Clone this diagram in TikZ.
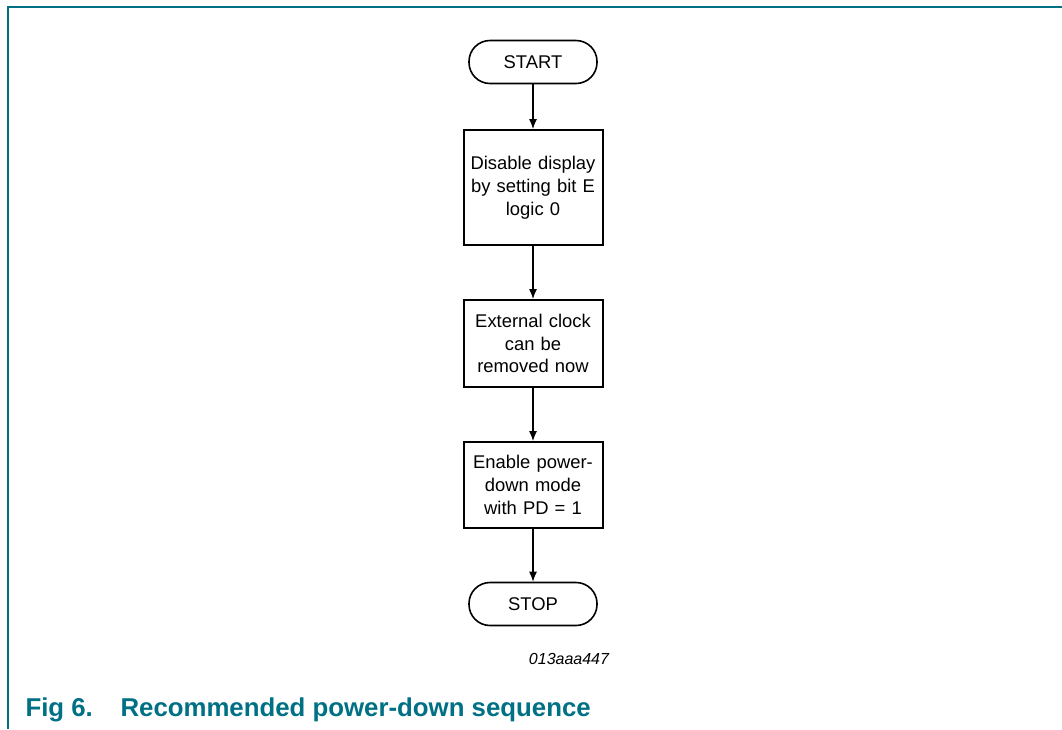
\documentclass[tikz,border=0pt]{standalone}
\usepackage{fontspec}
\setmainfont{Liberation Sans}
\usetikzlibrary{arrows.meta}
\definecolor{nxpteal}{RGB}{0,112,132}

\begin{document}
\begin{tikzpicture}[x=1pt,y=-1pt,
	stepbox/.style={shape=rectangle,draw=black,line width=2pt,minimum width=139pt,text width=130pt,align=center,font=\fontsize{18.4}{22.8}\selectfont},
	term/.style={shape=rectangle,draw=black,line width=1.6pt,rounded corners=21pt,minimum width=128pt,minimum height=43pt,font=\fontsize{18.4}{22.8}\selectfont},
	flow/.style={-{Latex[length=10pt,width=8pt]},line width=1.2pt}]
	\useasboundingbox (0,0) rectangle (1062,729);

	% frame
	\coordinate (fc) at (8,7);
	\coordinate (fr) at (1062,7);
	\coordinate (fb) at (8,729);
	\draw[nxpteal,line width=1.6pt] (fr) -- (fc) -- (fb);

	\node[term] (start) at (533, 62)     {START};
	\node[stepbox,minimum height=115pt] (dis) at (533, 187.5)  {Disable display\\by setting bit E\\logic 0};
	\node[stepbox,minimum height=87pt] (clk) at (533, 343.5)   {External clock\\can be\\removed now};
	\node[stepbox,minimum height=86pt] (pd) at (533, 485)      {Enable power-\\down mode\\with PD = 1};
	\node[term] (stop) at (533, 604)     {STOP};

	\path[flow] (start) edge (dis);
	\path[flow] (dis) edge (clk);
	\path[flow] (clk) edge (pd);
	\path[flow] (pd) edge (stop);

	\node[font=\fontsize{16}{19}\itshape] (code) at (569, 659) {013aaa447};
	\node[anchor=west,text=nxpteal,font=\fontsize{25.8}{30}\bfseries] (fig) at (22, 710) {Fig 6.};
	\node[anchor=west,text=nxpteal,font=\fontsize{25.8}{30}\bfseries] (cap) at (117, 710) {Recommended power-down sequence};
\end{tikzpicture}
\end{document}
